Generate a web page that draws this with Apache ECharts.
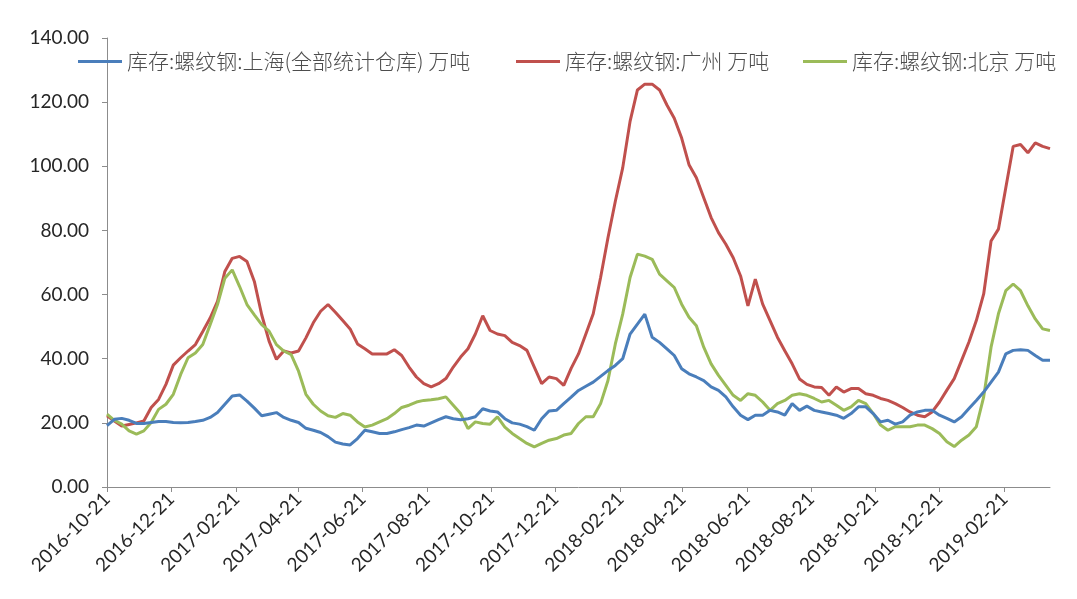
<!DOCTYPE html>
<html>
<head>
<meta charset="utf-8">
<script src="https://cdn.jsdelivr.net/npm/echarts@6/dist/echarts.min.js"></script>
<style>
  html, body { margin: 0; padding: 0; background: #ffffff; }
  #chart { width: 1077px; height: 599px; }
</style>
</head>
<body>
<div id="chart"></div>
<script>
// Weekly rebar inventory (万吨), first observation 2016-10-21
const startDate = '2016-10-21';

const shanghai = [
  19.1, 21.1, 21.4, 20.8, 19.8, 19.8, 20.1, 20.4, 20.4, 20.1, 20.0, 20.1, 20.4, 20.8, 21.7, 23.2,
  25.8, 28.4, 28.7, 26.8, 24.6, 22.2, 22.7, 23.2, 21.7, 20.8, 20.1, 18.3, 17.7, 17.0, 15.7, 14.0,
  13.4, 13.1, 15.1, 17.7, 17.2, 16.7, 16.7, 17.2, 17.9, 18.5, 19.3, 19.0, 20.0, 21.0, 21.9, 21.3,
  21.0, 21.3, 21.9, 24.4, 23.7, 23.4, 21.3, 20.0, 19.6, 18.8, 17.7, 21.3, 23.7, 23.9, 26.0, 28.0,
  30.1, 31.4, 32.7, 34.5, 36.3, 37.9, 40.0, 47.7, 50.8, 53.9, 46.7, 45.1, 43.1, 41.0, 36.9, 35.3,
  34.3, 33.2, 31.2, 30.1, 28.1, 25.0, 22.4, 21.0, 22.4, 22.4, 23.9, 23.4, 22.4, 26.0, 23.9, 25.2,
  23.9, 23.4, 22.9, 22.4, 21.4, 22.9, 25.0, 25.0, 22.9, 20.3, 20.8, 19.6, 20.3, 22.4, 23.4, 23.9,
  23.9, 22.4, 21.4, 20.3, 21.9, 24.5, 27.0, 29.6, 32.7, 35.8, 41.5, 42.6, 42.8, 42.6, 41.0, 39.5,
  39.5
];

const guangzhou = [
  22.2, 20.6, 19.0, 19.5, 20.0, 20.6, 24.8, 27.3, 32.0, 38.0, 40.3, 42.4, 44.4, 48.5, 52.7, 57.9,
  67.2, 71.3, 71.9, 70.3, 64.1, 53.7, 45.5, 39.8, 42.4, 41.8, 42.4, 46.5, 51.2, 54.8, 56.9, 54.5,
  51.9, 49.3, 44.6, 43.1, 41.5, 41.5, 41.5, 42.8, 41.0, 37.4, 34.3, 32.2, 31.2, 32.2, 33.8, 37.4,
  40.5, 43.1, 47.7, 53.4, 48.8, 47.7, 47.2, 45.1, 44.1, 42.6, 37.4, 32.2, 34.3, 33.8, 31.7, 37.0,
  41.5, 47.7, 54.0, 65.3, 77.7, 89.1, 99.5, 114.0, 123.8, 125.6, 125.6, 123.8, 119.1, 115.0, 108.8, 100.5,
  96.4, 90.2, 84.0, 79.3, 75.7, 71.5, 65.8, 56.5, 64.8, 57.0, 51.9, 46.7, 42.5, 38.4, 33.7, 32.0,
  31.2, 31.0, 28.6, 31.2, 29.6, 30.7, 30.7, 29.1, 28.6, 27.6, 27.0, 26.0, 24.8, 23.4, 22.4, 21.9,
  23.4, 26.5, 30.2, 33.8, 39.5, 45.2, 51.9, 60.2, 76.7, 80.4, 93.3, 106.2, 106.8, 104.2, 107.3, 106.2,
  105.5
];

const beijing = [
  22.7, 20.8, 19.6, 17.5, 16.5, 17.5, 20.1, 24.2, 25.8, 28.9, 35.1, 40.3, 41.8, 44.4, 50.6, 56.9,
  65.1, 67.7, 62.5, 56.9, 53.7, 50.6, 48.6, 44.4, 42.4, 41.3, 36.1, 28.9, 25.8, 23.7, 22.2, 21.7,
  22.9, 22.4, 20.3, 18.7, 19.3, 20.3, 21.3, 22.9, 24.8, 25.5, 26.5, 27.0, 27.2, 27.5, 28.1, 25.5,
  22.9, 18.2, 20.3, 19.8, 19.6, 21.9, 18.7, 16.7, 15.1, 13.6, 12.5, 13.6, 14.6, 15.1, 16.2, 16.7,
  19.8, 21.9, 21.9, 26.0, 33.2, 44.6, 53.9, 65.3, 72.6, 72.0, 71.0, 66.4, 64.3, 62.2, 57.0, 52.9,
  50.3, 43.6, 38.4, 34.8, 31.7, 28.6, 27.0, 29.1, 28.6, 26.5, 23.9, 26.0, 27.0, 28.6, 29.1, 28.6,
  27.6, 26.5, 27.0, 25.5, 23.9, 25.0, 27.0, 26.0, 22.9, 19.3, 17.7, 18.8, 18.8, 18.8, 19.3, 19.3,
  18.2, 16.7, 14.1, 12.6, 14.6, 16.2, 18.8, 28.1, 43.6, 54.0, 61.2, 63.3, 61.2, 56.5, 52.4, 49.3,
  48.8
];

const seriesNames = [
  '库存:螺纹钢:上海(全部统计仓库) 万吨',
  '库存:螺纹钢:广州 万吨',
  '库存:螺纹钢:北京 万吨'
];

const tickLabels = [
  '2016-10-21', '2016-12-21', '2017-02-21', '2017-04-21', '2017-06-21',
  '2017-08-21', '2017-10-21', '2017-12-21', '2018-02-21', '2018-04-21',
  '2018-06-21', '2018-08-21', '2018-10-21', '2018-12-21', '2019-02-21'
];

const yTicks = [0, 20, 40, 60, 80, 100, 120, 140];

// Dates are handled as whole days in UTC to keep ticks exactly on the 21st
const DAY = 86400000;
function toDay(s) {
  const p = s.split('-').map(Number);
  return Date.UTC(p[0], p[1] - 1, p[2]) / DAY;
}
function fromDay(d) {
  const t = new Date(d * DAY);
  const mm = String(t.getUTCMonth() + 1).padStart(2, '0');
  const dd = String(t.getUTCDate()).padStart(2, '0');
  return t.getUTCFullYear() + '-' + mm + '-' + dd;
}

const day0 = toDay(startDate);
const weekDays = shanghai.map((_, i) => day0 + i * 7);
const tickDays = tickLabels.map(toDay);

function pairs(values) {
  return values.map((v, i) => [weekDays[i], v]);
}

const colors = ['#4a7ebb', '#c0504d', '#9bbb59'];
const legendLeft = [73, 511, 798];

const chart = echarts.init(document.getElementById('chart'), null, { renderer: 'canvas' });

chart.setOption({
  backgroundColor: '#ffffff',
  animation: false,
  color: colors,
  grid: { left: 107, right: 27, top: 38, bottom: 112, containLabel: false },
  legend: seriesNames.map((name, k) => ({
    data: [name],
    left: legendLeft[k],
    top: 46,
    icon: 'rect',
    itemWidth: 44,
    itemHeight: 3,
    itemGap: 0,
    textStyle: {
      fontFamily: 'Noto Sans CJK SC',
      fontSize: 21,
      fontWeight: 300,
      color: '#4d4d4d',
      padding: [0, 0, 0, 0]
    }
  })),
  xAxis: {
    type: 'value',
    min: weekDays[0],
    max: weekDays[weekDays.length - 1],
    splitLine: { show: false },
    axisLine: { show: true, lineStyle: { color: '#8c8c8c', width: 1 } },
    axisTick: { show: true, customValues: tickDays, length: 5, lineStyle: { color: '#8c8c8c' } },
    axisLabel: {
      customValues: tickDays,
      formatter: (v) => fromDay(v),
      rotate: 45,
      margin: 9,
      fontFamily: 'Lato',
      fontSize: 19,
      color: '#262626'
    }
  },
  yAxis: {
    type: 'value',
    min: yTicks[0],
    max: yTicks[yTicks.length - 1],
    interval: 20,
    splitLine: { show: false },
    axisLine: { show: true, lineStyle: { color: '#8c8c8c', width: 1 } },
    axisTick: { show: true, length: 5, lineStyle: { color: '#8c8c8c' } },
    axisLabel: {
      formatter: (v) => v.toFixed(2),
      margin: 18,
      fontFamily: 'Lato',
      fontSize: 19,
      color: '#262626'
    }
  },
  series: [shanghai, guangzhou, beijing].map((vals, k) => ({
    name: seriesNames[k],
    type: 'line',
    data: pairs(vals),
    showSymbol: false,
    symbol: 'none',
    smooth: false,
    lineStyle: { width: 3, color: colors[k] },
    itemStyle: { color: colors[k] },
    z: k === 0 ? 4 : (k === 2 ? 3 : 2)
  }))
});
</script>
</body>
</html>
